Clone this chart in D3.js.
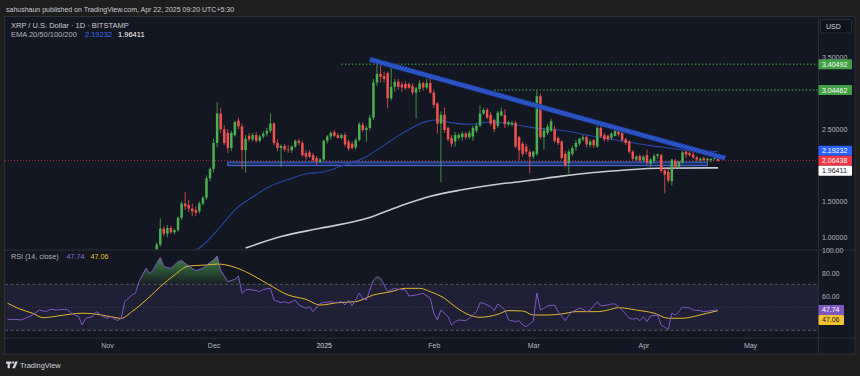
<!DOCTYPE html>
<html>
<head>
<meta charset="utf-8">
<script src="https://cdn.jsdelivr.net/npm/d3@7"></script>
<style>
  body { margin: 0; background: #1e1e1e; }
  svg { display: block; font-family: "Liberation Sans", Arial, sans-serif; }
</style>
</head>
<body>
<script>
// daily candles: date, open, high, low, close
var candles = [
  ["2024-11-12", 0.62, 0.78, 0.60, 0.72], ["2024-11-13", 0.72, 0.76, 0.66, 0.71],
  ["2024-11-14", 0.71, 0.78, 0.68, 0.73], ["2024-11-15", 0.73, 0.93, 0.72, 0.90],
  ["2024-11-16", 0.90, 1.26, 0.87, 1.12], ["2024-11-17", 1.12, 1.15, 1.02, 1.05],
  ["2024-11-18", 1.05, 1.17, 1.00, 1.13], ["2024-11-19", 1.13, 1.16, 1.05, 1.07],
  ["2024-11-20", 1.07, 1.12, 1.04, 1.10], ["2024-11-21", 1.10, 1.29, 1.08, 1.27],
  ["2024-11-22", 1.27, 1.50, 1.24, 1.47], ["2024-11-23", 1.47, 1.63, 1.38, 1.43],
  ["2024-11-24", 1.45, 1.52, 1.35, 1.40], ["2024-11-25", 1.40, 1.47, 1.29, 1.36],
  ["2024-11-26", 1.38, 1.43, 1.30, 1.34], ["2024-11-27", 1.36, 1.50, 1.33, 1.47],
  ["2024-11-28", 1.47, 1.57, 1.44, 1.55], ["2024-11-29", 1.55, 1.86, 1.52, 1.82],
  ["2024-11-30", 1.82, 1.97, 1.78, 1.95], ["2024-12-01", 1.95, 2.37, 1.90, 2.31],
  ["2024-12-02", 2.31, 2.88, 2.25, 2.72], ["2024-12-03", 2.72, 2.80, 2.45, 2.50],
  ["2024-12-04", 2.50, 2.56, 2.28, 2.31], ["2024-12-05", 2.45, 2.50, 2.17, 2.24],
  ["2024-12-06", 2.24, 2.48, 2.20, 2.45], ["2024-12-07", 2.42, 2.62, 2.40, 2.60],
  ["2024-12-08", 2.62, 2.66, 2.50, 2.54], ["2024-12-09", 2.54, 2.58, 1.95, 2.21],
  ["2024-12-10", 2.21, 2.42, 1.90, 2.37], ["2024-12-11", 2.41, 2.45, 2.33, 2.36],
  ["2024-12-12", 2.36, 2.45, 2.33, 2.42], ["2024-12-13", 2.42, 2.46, 2.31, 2.34],
  ["2024-12-14", 2.34, 2.43, 2.32, 2.40], ["2024-12-15", 2.40, 2.47, 2.37, 2.44],
  ["2024-12-16", 2.44, 2.52, 2.40, 2.48], ["2024-12-17", 2.48, 2.72, 2.45, 2.58],
  ["2024-12-18", 2.58, 2.60, 2.28, 2.31], ["2024-12-19", 2.31, 2.36, 2.20, 2.24],
  ["2024-12-20", 2.24, 2.29, 1.98, 2.27], ["2024-12-21", 2.27, 2.30, 2.19, 2.22],
  ["2024-12-22", 2.22, 2.28, 2.17, 2.21], ["2024-12-23", 2.21, 2.28, 2.17, 2.26],
  ["2024-12-24", 2.26, 2.36, 2.24, 2.34], ["2024-12-25", 2.34, 2.37, 2.28, 2.31],
  ["2024-12-26", 2.31, 2.34, 2.12, 2.14], ["2024-12-27", 2.17, 2.21, 2.08, 2.12],
  ["2024-12-28", 2.18, 2.21, 2.10, 2.12], ["2024-12-29", 2.14, 2.17, 2.05, 2.07],
  ["2024-12-30", 2.10, 2.13, 2.00, 2.05], ["2024-12-31", 2.05, 2.10, 2.03, 2.08],
  ["2025-01-01", 2.08, 2.36, 2.06, 2.34], ["2025-01-02", 2.34, 2.42, 2.30, 2.40],
  ["2025-01-03", 2.40, 2.47, 2.36, 2.45], ["2025-01-04", 2.46, 2.49, 2.39, 2.41],
  ["2025-01-05", 2.42, 2.45, 2.37, 2.38], ["2025-01-06", 2.38, 2.44, 2.36, 2.42],
  ["2025-01-07", 2.42, 2.45, 2.26, 2.29], ["2025-01-08", 2.33, 2.36, 2.20, 2.23],
  ["2025-01-09", 2.30, 2.33, 2.22, 2.24], ["2025-01-10", 2.25, 2.38, 2.22, 2.35],
  ["2025-01-11", 2.35, 2.60, 2.33, 2.57], ["2025-01-12", 2.56, 2.60, 2.46, 2.49],
  ["2025-01-13", 2.49, 2.55, 2.33, 2.52], ["2025-01-14", 2.52, 2.70, 2.48, 2.66],
  ["2025-01-15", 2.66, 3.20, 2.63, 3.15], ["2025-01-16", 3.15, 3.40, 3.10, 3.27],
  ["2025-01-17", 3.27, 3.39, 3.15, 3.23], ["2025-01-18", 3.24, 3.30, 3.15, 3.20],
  ["2025-01-19", 3.28, 3.30, 2.79, 2.93], ["2025-01-20", 2.93, 3.40, 2.90, 3.09],
  ["2025-01-21", 3.09, 3.20, 3.02, 3.16], ["2025-01-22", 3.16, 3.20, 3.05, 3.09],
  ["2025-01-23", 3.12, 3.16, 3.02, 3.08], ["2025-01-24", 3.13, 3.17, 3.05, 3.07],
  ["2025-01-25", 3.13, 3.15, 3.06, 3.08], ["2025-01-26", 3.10, 3.14, 2.98, 3.01],
  ["2025-01-27", 3.01, 3.09, 2.65, 3.07], ["2025-01-28", 3.06, 3.18, 3.02, 3.14],
  ["2025-01-29", 3.14, 3.16, 3.04, 3.08], ["2025-01-30", 3.08, 3.20, 3.05, 3.14],
  ["2025-01-31", 3.14, 3.20, 2.99, 3.01], ["2025-02-01", 3.01, 3.05, 2.80, 2.84],
  ["2025-02-02", 2.86, 2.88, 2.44, 2.58], ["2025-02-03", 2.58, 2.75, 1.77, 2.70],
  ["2025-02-04", 2.70, 2.80, 2.45, 2.49], ["2025-02-05", 2.52, 2.54, 2.33, 2.36],
  ["2025-02-06", 2.38, 2.42, 2.26, 2.30], ["2025-02-07", 2.33, 2.46, 2.26, 2.42],
  ["2025-02-08", 2.38, 2.45, 2.35, 2.42], ["2025-02-09", 2.39, 2.47, 2.34, 2.44],
  ["2025-02-10", 2.44, 2.46, 2.36, 2.39], ["2025-02-11", 2.39, 2.48, 2.36, 2.45],
  ["2025-02-12", 2.40, 2.55, 2.34, 2.52], ["2025-02-13", 2.48, 2.58, 2.45, 2.55],
  ["2025-02-14", 2.55, 2.83, 2.53, 2.72], ["2025-02-15", 2.72, 2.80, 2.70, 2.77],
  ["2025-02-16", 2.77, 2.80, 2.64, 2.66], ["2025-02-17", 2.70, 2.74, 2.55, 2.58],
  ["2025-02-18", 2.63, 2.65, 2.46, 2.50], ["2025-02-19", 2.55, 2.76, 2.52, 2.73],
  ["2025-02-20", 2.69, 2.80, 2.68, 2.75], ["2025-02-21", 2.70, 2.78, 2.52, 2.57],
  ["2025-02-22", 2.57, 2.62, 2.54, 2.60], ["2025-02-23", 2.57, 2.62, 2.54, 2.59],
  ["2025-02-24", 2.59, 2.62, 2.24, 2.26], ["2025-02-25", 2.39, 2.41, 2.07, 2.21],
  ["2025-02-26", 2.30, 2.33, 2.12, 2.16], ["2025-02-27", 2.26, 2.30, 2.15, 2.19],
  ["2025-02-28", 2.19, 2.22, 1.89, 2.12], ["2025-03-01", 2.12, 2.20, 2.09, 2.19],
  ["2025-03-02", 2.16, 3.04, 2.13, 2.96], ["2025-03-03", 2.96, 3.00, 2.36, 2.39],
  ["2025-03-04", 2.39, 2.52, 2.22, 2.48], ["2025-03-05", 2.45, 2.57, 2.42, 2.54],
  ["2025-03-06", 2.48, 2.65, 2.46, 2.61], ["2025-03-07", 2.50, 2.55, 2.31, 2.34],
  ["2025-03-08", 2.38, 2.40, 2.28, 2.31], ["2025-03-09", 2.33, 2.35, 2.08, 2.10],
  ["2025-03-10", 2.16, 2.20, 1.98, 2.00], ["2025-03-11", 2.03, 2.22, 1.89, 2.19],
  ["2025-03-12", 2.16, 2.27, 2.13, 2.24], ["2025-03-13", 2.25, 2.35, 2.20, 2.31],
  ["2025-03-14", 2.30, 2.38, 2.27, 2.37], ["2025-03-15", 2.36, 2.42, 2.33, 2.39],
  ["2025-03-16", 2.39, 2.41, 2.25, 2.29], ["2025-03-17", 2.28, 2.36, 2.25, 2.33],
  ["2025-03-18", 2.35, 2.37, 2.24, 2.28], ["2025-03-19", 2.26, 2.55, 2.24, 2.52],
  ["2025-03-20", 2.52, 2.55, 2.38, 2.40], ["2025-03-21", 2.42, 2.45, 2.33, 2.36],
  ["2025-03-22", 2.41, 2.43, 2.33, 2.36], ["2025-03-23", 2.38, 2.46, 2.35, 2.44],
  ["2025-03-24", 2.41, 2.52, 2.40, 2.48], ["2025-03-25", 2.47, 2.50, 2.40, 2.43],
  ["2025-03-26", 2.45, 2.47, 2.32, 2.35], ["2025-03-27", 2.36, 2.38, 2.28, 2.31],
  ["2025-03-28", 2.33, 2.35, 2.16, 2.19], ["2025-03-29", 2.19, 2.21, 2.07, 2.09],
  ["2025-03-30", 2.08, 2.14, 2.06, 2.12], ["2025-03-31", 2.13, 2.15, 2.05, 2.07],
  ["2025-04-01", 2.07, 2.14, 2.05, 2.12], ["2025-04-02", 2.14, 2.22, 2.00, 2.04],
  ["2025-04-03", 2.02, 2.10, 1.98, 2.08], ["2025-04-04", 2.06, 2.16, 2.03, 2.13],
  ["2025-04-05", 2.13, 2.17, 2.09, 2.15], ["2025-04-06", 2.14, 2.16, 1.90, 1.92],
  ["2025-04-07", 1.93, 1.96, 1.61, 1.87], ["2025-04-08", 1.91, 1.95, 1.76, 1.79],
  ["2025-04-09", 1.78, 2.09, 1.72, 2.08], ["2025-04-10", 2.06, 2.09, 1.95, 1.98],
  ["2025-04-11", 1.98, 2.06, 1.95, 2.05], ["2025-04-12", 2.04, 2.20, 2.02, 2.18],
  ["2025-04-13", 2.19, 2.24, 2.10, 2.15], ["2025-04-14", 2.17, 2.20, 2.12, 2.14],
  ["2025-04-15", 2.15, 2.22, 2.09, 2.11], ["2025-04-16", 2.11, 2.13, 2.05, 2.08],
  ["2025-04-17", 2.07, 2.11, 2.05, 2.09], ["2025-04-18", 2.10, 2.12, 2.06, 2.07],
  ["2025-04-19", 2.07, 2.11, 2.05, 2.09], ["2025-04-20", 2.07, 2.10, 2.04, 2.09],
  ["2025-04-21", 2.09, 2.13, 2.07, 2.11], ["2025-04-22", 2.10, 2.12, 2.05, 2.06438]
];

var ema50 = [
  ["2024-11-20", 0.72], ["2024-11-28", 0.89], ["2024-12-03", 1.15], ["2024-12-07", 1.38],
  ["2024-12-12", 1.56], ["2024-12-17", 1.71], ["2024-12-23", 1.82], ["2024-12-28", 1.89],
  ["2024-12-31", 1.90], ["2025-01-06", 1.99], ["2025-01-13", 2.12], ["2025-01-18", 2.28],
  ["2025-01-23", 2.44], ["2025-01-30", 2.61], ["2025-02-02", 2.63], ["2025-02-05", 2.60],
  ["2025-02-11", 2.57], ["2025-02-17", 2.60], ["2025-02-22", 2.58], ["2025-02-28", 2.53],
  ["2025-03-05", 2.50], ["2025-03-11", 2.47], ["2025-03-16", 2.42], ["2025-03-22", 2.37],
  ["2025-03-27", 2.33], ["2025-04-02", 2.28], ["2025-04-08", 2.24], ["2025-04-13", 2.21],
  ["2025-04-22", 2.19232]
];

var ema200 = [
  ["2024-12-10", 0.85], ["2024-12-20", 1.01], ["2024-12-31", 1.125], ["2025-01-13", 1.26],
  ["2025-01-22", 1.425], ["2025-01-31", 1.57], ["2025-02-09", 1.66], ["2025-02-18", 1.73],
  ["2025-02-28", 1.79], ["2025-03-09", 1.85], ["2025-03-18", 1.90], ["2025-03-27", 1.935],
  ["2025-04-05", 1.96], ["2025-04-22", 1.96411]
];

var rsi = [
  ["2024-10-04", 39.5], ["2024-10-06", 39.5], ["2024-10-08", 39.0], ["2024-10-09", 40.5],
  ["2024-10-11", 43.3], ["2024-10-13", 47.6], ["2024-10-15", 46.2], ["2024-10-16", 48.3],
  ["2024-10-18", 47.6], ["2024-10-20", 48.3], ["2024-10-21", 47.6], ["2024-10-22", 44.9],
  ["2024-10-24", 41.9], ["2024-10-25", 34.6], ["2024-10-26", 40.4], ["2024-10-28", 41.9],
  ["2024-10-29", 46.2], ["2024-10-31", 41.9], ["2024-11-01", 40.4], ["2024-11-02", 41.9],
  ["2024-11-04", 38.4], ["2024-11-05", 40.4], ["2024-11-06", 54.9], ["2024-11-08", 60.7],
  ["2024-11-09", 62.2], ["2024-11-10", 72.3], ["2024-11-12", 83.9], ["2024-11-13", 79.5],
  ["2024-11-14", 82.4], ["2024-11-15", 88.2], ["2024-11-16", 93.4], ["2024-11-17", 85.3],
  ["2024-11-19", 83.9], ["2024-11-20", 86.8], ["2024-11-21", 89.7], ["2024-11-22", 90.6],
  ["2024-11-23", 88.2], ["2024-11-25", 83.9], ["2024-11-26", 81.9], ["2024-11-28", 83.9],
  ["2024-11-29", 86.8], ["2024-12-01", 91.1], ["2024-12-02", 94.6], ["2024-12-03", 82.4],
  ["2024-12-05", 72.3], ["2024-12-07", 74.3], ["2024-12-08", 77.2], ["2024-12-09", 62.2],
  ["2024-12-10", 65.1], ["2024-12-11", 65.6], ["2024-12-13", 64.5], ["2024-12-14", 63.6],
  ["2024-12-15", 65.6], ["2024-12-17", 66.5], ["2024-12-18", 56.3], ["2024-12-20", 54.0],
  ["2024-12-21", 54.9], ["2024-12-22", 53.5], ["2024-12-24", 56.3], ["2024-12-25", 52.0],
  ["2024-12-27", 49.1], ["2024-12-28", 50.5], ["2024-12-29", 46.2], ["2024-12-31", 53.5],
  ["2025-01-01", 54.0], ["2025-01-03", 54.9], ["2025-01-04", 54.0], ["2025-01-06", 54.9],
  ["2025-01-07", 52.0], ["2025-01-08", 56.3], ["2025-01-09", 51.2], ["2025-01-10", 56.3],
  ["2025-01-11", 62.2], ["2025-01-12", 57.8], ["2025-01-13", 56.3], ["2025-01-15", 73.7],
  ["2025-01-16", 76.6], ["2025-01-17", 75.2], ["2025-01-19", 63.6], ["2025-01-20", 65.1],
  ["2025-01-21", 66.5], ["2025-01-22", 65.6], ["2025-01-24", 65.1], ["2025-01-25", 59.8],
  ["2025-01-27", 60.7], ["2025-01-29", 62.2], ["2025-01-31", 57.8], ["2025-02-01", 44.8],
  ["2025-02-02", 39.0], ["2025-02-03", 47.6], ["2025-02-05", 41.9], ["2025-02-06", 34.6],
  ["2025-02-07", 37.5], ["2025-02-08", 39.0], ["2025-02-10", 38.4], ["2025-02-11", 40.4],
  ["2025-02-13", 46.2], ["2025-02-14", 54.0], ["2025-02-15", 53.5], ["2025-02-17", 50.5],
  ["2025-02-18", 47.1], ["2025-02-19", 52.9], ["2025-02-20", 50.5], ["2025-02-21", 47.6],
  ["2025-02-22", 39.0], ["2025-02-24", 37.5], ["2025-02-25", 38.4], ["2025-02-26", 34.6],
  ["2025-02-27", 33.2], ["2025-02-28", 35.5], ["2025-03-01", 38.0], ["2025-03-02", 62.2],
  ["2025-03-03", 47.6], ["2025-03-04", 49.1], ["2025-03-05", 51.2], ["2025-03-07", 52.0],
  ["2025-03-08", 46.2], ["2025-03-09", 42.4], ["2025-03-10", 38.4], ["2025-03-11", 43.3],
  ["2025-03-12", 46.2], ["2025-03-14", 49.1], ["2025-03-15", 48.3], ["2025-03-16", 46.2],
  ["2025-03-17", 47.6], ["2025-03-19", 54.9], ["2025-03-20", 51.2], ["2025-03-22", 52.0],
  ["2025-03-23", 52.9], ["2025-03-24", 52.9], ["2025-03-25", 50.5], ["2025-03-26", 47.6],
  ["2025-03-28", 40.5], ["2025-03-29", 39.6], ["2025-03-30", 40.5], ["2025-03-31", 38.4],
  ["2025-04-01", 41.9], ["2025-04-02", 37.5], ["2025-04-03", 42.4], ["2025-04-05", 43.3],
  ["2025-04-06", 34.6], ["2025-04-07", 32.6], ["2025-04-08", 30.8], ["2025-04-09", 44.9],
  ["2025-04-10", 43.3], ["2025-04-11", 46.2], ["2025-04-12", 50.2], ["2025-04-14", 49.3],
  ["2025-04-15", 47.6], ["2025-04-17", 47.1], ["2025-04-18", 46.2], ["2025-04-20", 47.1],
  ["2025-04-22", 47.74]
];

var rsiMa = [
  ["2024-10-04", 53.6], ["2024-10-07", 49.1], ["2024-10-11", 44.9], ["2024-10-14", 41.0],
  ["2024-10-18", 42.4], ["2024-10-22", 44.1], ["2024-10-25", 44.9], ["2024-10-29", 44.0],
  ["2024-11-02", 41.9], ["2024-11-05", 40.4], ["2024-11-08", 46.2], ["2024-11-12", 56.3],
  ["2024-11-16", 67.9], ["2024-11-20", 78.1], ["2024-11-24", 85.9], ["2024-11-29", 86.8],
  ["2024-12-02", 87.6], ["2024-12-07", 84.8], ["2024-12-11", 79.5], ["2024-12-16", 70.8],
  ["2024-12-22", 60.7], ["2024-12-27", 56.9], ["2024-12-31", 52.0], ["2025-01-05", 54.0],
  ["2025-01-10", 54.9], ["2025-01-15", 60.7], ["2025-01-20", 63.6], ["2025-01-24", 66.5],
  ["2025-01-28", 66.5], ["2025-01-31", 63.6], ["2025-02-04", 57.8], ["2025-02-07", 50.5],
  ["2025-02-11", 43.3], ["2025-02-14", 41.3], ["2025-02-19", 43.9], ["2025-02-22", 47.1],
  ["2025-02-26", 46.8], ["2025-03-01", 43.3], ["2025-03-05", 43.3], ["2025-03-09", 44.2],
  ["2025-03-13", 46.2], ["2025-03-19", 46.2], ["2025-03-22", 47.6], ["2025-03-25", 49.7],
  ["2025-03-30", 47.6], ["2025-04-04", 44.9], ["2025-04-08", 40.5], ["2025-04-12", 40.5],
  ["2025-04-16", 42.6], ["2025-04-19", 44.9], ["2025-04-22", 47.06]
];

// 2.0, 3.0 and 40 sit under the value labels in the reference, so they are left out
var priceTicks = [1, 1.5, 2.5, 3.5];
var rsiTicks = [100, 80, 60];
var rsiLevels = [70, 50, 30];
var monthTicks = ["2024-11-01", "2024-12-01", "2025-01-01", "2025-02-01", "2025-03-01", "2025-04-01", "2025-05-01"];

// drawings on the chart
var levelPrices = [3.40492, 3.04462];
var levelStarts = ["2025-01-06", "2025-02-18"];
var trendline = [["2025-01-14", 3.47], ["2025-04-24", 2.10]];
var zoneDates = ["2024-12-05", "2025-04-19"];
var zonePrices = [2.045, 1.995];

var lastPrice = 2.06438, lastEma50 = 2.19232, lastEma200 = 1.96411;
var lastRsi = 47.74, lastRsiMa = 47.06;

var parse = d3.utcParse("%Y-%m-%d");
var bars = candles.map(function(d) {
  return { date: parse(d[0]), o: d[1], h: d[2], l: d[3], c: d[4] };
});
var pts = function(arr) {
  return arr.map(function(d) { return { date: parse(d[0]), v: d[1] }; });
};

var W = 860, H = 376,
    plotL = 5, plotR = 818, panelR = 855,
    priceTop = 16.5, priceBot = 249.5, rsiTop = 250, rsiBot = 338, timeBot = 354;

var green = "#4caf50", red = "#ef5350", grid = "#2a2e39", axisText = "#b2b5be";

var x = d3.scaleUtc()
    .domain([parse("2024-11-01"), parse("2025-05-01")])
    .range([107, 750]);
var y = d3.scaleLinear().domain([1, 3.5]).range([237.3, 57.3]);
var yr = d3.scaleLinear().domain([30, 70]).range([330.3, 284.3]);

var svg = d3.select("body").append("svg")
    .attr("width", W)
    .attr("height", H);

var defs = svg.append("defs");
defs.append("clipPath").attr("id", "clipPrice").append("rect")
    .attr("x", plotL).attr("y", priceTop)
    .attr("width", plotR - plotL).attr("height", priceBot - priceTop);
defs.append("clipPath").attr("id", "clipRsi").append("rect")
    .attr("x", plotL).attr("y", rsiTop)
    .attr("width", plotR - plotL).attr("height", rsiBot - rsiTop);
defs.append("clipPath").attr("id", "clipOver").append("rect")
    .attr("x", plotL).attr("y", rsiTop)
    .attr("width", plotR - plotL).attr("height", yr(70) - rsiTop);

var grad = defs.append("linearGradient").attr("id", "overGrad")
    .attr("gradientUnits", "userSpaceOnUse")
    .attr("x1", 0).attr("x2", 0).attr("y1", yr(100)).attr("y2", yr(70));
grad.append("stop").attr("offset", 0).attr("stop-color", green).attr("stop-opacity", 0.9);
grad.append("stop").attr("offset", 1).attr("stop-color", green).attr("stop-opacity", 0.05);

var hatch = defs.append("pattern").attr("id", "hatch")
    .attr("width", 2.5).attr("height", 2.5)
    .attr("patternUnits", "userSpaceOnUse")
    .attr("patternTransform", "rotate(45)");
hatch.append("rect").attr("width", 2.5).attr("height", 2.5).attr("fill", "#2348b8");
hatch.append("line").attr("x1", 0).attr("y1", 0).attr("x2", 0).attr("y2", 2.5)
    .attr("stroke", "#4f78e6").attr("stroke-width", 1);

// background and panel frame
svg.append("rect").attr("width", W).attr("height", H).attr("fill", "#1e1e1e");
svg.append("rect")
    .attr("x", 4.5).attr("y", 16.5)
    .attr("width", panelR - 4.5).attr("height", timeBot - 16.5)
    .attr("fill", "#131722")
    .attr("stroke", grid);

svg.append("text")
    .attr("x", 6).attr("y", 11.5)
    .attr("fill", "#c8cbd3").attr("font-size", 7)
    .text("sahushaun published on TradingView.com, Apr 22, 2025 09:20 UTC+5:30");

// ---- price pane ----
var price = svg.append("g").attr("clip-path", "url(#clipPrice)");

price.append("line")
    .attr("x1", plotL).attr("x2", plotR)
    .attr("y1", y(lastPrice)).attr("y2", y(lastPrice))
    .attr("stroke", "#f23645").attr("stroke-opacity", 0.75)
    .attr("stroke-dasharray", "1,2");

price.selectAll("line.level")
    .data(levelPrices)
  .enter().append("line")
    .attr("class", "level")
    .attr("x1", function(d, i) { return x(parse(levelStarts[i])); })
    .attr("x2", plotR)
    .attr("y1", function(d) { return y(d); })
    .attr("y2", function(d) { return y(d); })
    .attr("stroke", green)
    .attr("stroke-dasharray", "1.5,2");

price.append("rect")
    .attr("x", x(parse(zoneDates[0])))
    .attr("width", x(parse(zoneDates[1])) - x(parse(zoneDates[0])))
    .attr("y", y(zonePrices[0]))
    .attr("height", y(zonePrices[1]) - y(zonePrices[0]))
    .attr("fill", "rgba(41,98,255,0.3)")
    .attr("stroke", "#5576dc")
    .attr("stroke-width", 0.9);

var emaLine = d3.line()
    .x(function(d) { return x(d.date); })
    .y(function(d) { return y(d.v); })
    .curve(d3.curveMonotoneX);

price.append("path")
    .attr("d", emaLine(pts(ema200)))
    .attr("fill", "none").attr("stroke", "#c9ccd4").attr("stroke-width", 1.6);
price.append("path")
    .attr("d", emaLine(pts(ema50)))
    .attr("fill", "none").attr("stroke", "#2747a8").attr("stroke-width", 1.1);

var candle = price.selectAll("g.candle")
    .data(bars)
  .enter().append("g")
    .attr("class", "candle")
    .attr("fill", function(d) { return d.c >= d.o ? green : red; })
    .attr("stroke", function(d) { return d.c >= d.o ? green : red; });

candle.append("line")
    .attr("x1", function(d) { return x(d.date); })
    .attr("x2", function(d) { return x(d.date); })
    .attr("y1", function(d) { return y(d.h); })
    .attr("y2", function(d) { return y(d.l); })
    .attr("stroke-width", 0.8);

candle.append("rect")
    .attr("stroke", "none")
    .attr("x", function(d) { return x(d.date) - 1.25; })
    .attr("width", 2.5)
    .attr("y", function(d) { return y(Math.max(d.o, d.c)); })
    .attr("height", function(d) { return Math.max(0.8, Math.abs(y(d.o) - y(d.c))); });

// descending trendline band
var tl = trendline.map(function(d) { return [x(parse(d[0])), y(d[1])]; });
price.append("line")
    .attr("x1", tl[0][0]).attr("y1", tl[0][1]).attr("x2", tl[1][0]).attr("y2", tl[1][1])
    .attr("stroke", "#1a3585").attr("stroke-width", 5.5);
price.append("line")
    .attr("x1", tl[0][0]).attr("y1", tl[0][1]).attr("x2", tl[1][0]).attr("y2", tl[1][1])
    .attr("stroke", "url(#hatch)").attr("stroke-width", 4);

// legend
var legend = svg.append("g").attr("font-size", 7.5);
legend.append("text").attr("x", 11).attr("y", 27.5).attr("fill", "#c9ccd4")
    .text("XRP / U.S. Dollar \u00b7 1D \u00b7 BITSTAMP");
var emaText = legend.append("text").attr("x", 11).attr("y", 37).attr("fill", axisText);
emaText.append("tspan").text("EMA 20/50/100/200");
emaText.append("tspan").attr("dx", 8).attr("fill", "#3d6cf2").text(d3.format(".5f")(lastEma50));
emaText.append("tspan").attr("dx", 6).attr("fill", "#ffffff").text(d3.format(".5f")(lastEma200));

// ---- RSI pane ----
var rsiG = svg.append("g").attr("clip-path", "url(#clipRsi)");

rsiG.append("rect")
    .attr("x", plotL).attr("width", plotR - plotL)
    .attr("y", yr(70)).attr("height", yr(30) - yr(70))
    .attr("fill", "rgba(126,87,194,0.12)");

rsiG.selectAll("line.rsiLevel")
    .data(rsiLevels)
  .enter().append("line")
    .attr("class", "rsiLevel")
    .attr("x1", plotL).attr("x2", plotR)
    .attr("y1", function(d) { return yr(d); })
    .attr("y2", function(d) { return yr(d); })
    .attr("stroke", "#787b86")
    .attr("stroke-opacity", function(d) { return d === 50 ? 0.45 : 0.8; })
    .attr("stroke-dasharray", function(d) { return d === 50 ? "1,2" : "3,2.5"; })
    .attr("stroke-width", 0.8);

var rsiPts = pts(rsi);
rsiG.append("path")
    .attr("clip-path", "url(#clipOver)")
    .attr("d", d3.area()
      .x(function(d) { return x(d.date); })
      .y0(yr(70))
      .y1(function(d) { return yr(d.v); })(rsiPts))
    .attr("fill", "url(#overGrad)");

rsiG.append("path")
    .attr("d", d3.line()
      .x(function(d) { return x(d.date); })
      .y(function(d) { return yr(d.v); })
      .curve(d3.curveMonotoneX)(pts(rsiMa)))
    .attr("fill", "none").attr("stroke", "#e5b82a").attr("stroke-width", 1);

rsiG.append("path")
    .attr("d", d3.line()
      .x(function(d) { return x(d.date); })
      .y(function(d) { return yr(d.v); })(rsiPts))
    .attr("fill", "none").attr("stroke", "#7e57c2").attr("stroke-width", 1);

var rsiLegend = svg.append("text").attr("x", 11).attr("y", 258.5)
    .attr("font-size", 7.2).attr("fill", axisText);
rsiLegend.append("tspan").text("RSI (14, close)");
rsiLegend.append("tspan").attr("dx", 8).attr("fill", "#8f6fd6").text(lastRsi.toFixed(2));
rsiLegend.append("tspan").attr("dx", 6).attr("fill", "#f0c028").text(lastRsiMa.toFixed(2));

// pane separators
svg.append("line").attr("x1", 4.5).attr("x2", panelR).attr("y1", rsiTop).attr("y2", rsiTop).attr("stroke", grid);
svg.append("line").attr("x1", 4.5).attr("x2", panelR).attr("y1", rsiBot).attr("y2", rsiBot).attr("stroke", grid);
svg.append("line").attr("x1", plotR + 0.5).attr("x2", plotR + 0.5).attr("y1", 16.5).attr("y2", timeBot).attr("stroke", grid);

// ---- axes ----
var styleAxis = function(g) {
  g.select(".domain").remove();
  g.selectAll("text").attr("fill", axisText).attr("font-size", 7)
      .attr("font-family", "\"Liberation Sans\", Arial, sans-serif");
};

svg.append("g")
    .attr("transform", "translate(" + plotR + ",0)")
    .call(d3.axisRight(y).tickValues(priceTicks).tickFormat(d3.format(".5f")).tickSize(0).tickPadding(4))
    .call(styleAxis);

svg.append("g")
    .attr("transform", "translate(" + plotR + ",0)")
    .call(d3.axisRight(yr).tickValues(rsiTicks).tickFormat(d3.format(".2f")).tickSize(0).tickPadding(4))
    .call(styleAxis);

svg.append("g")
    .attr("transform", "translate(0," + rsiBot + ")")
    .call(d3.axisBottom(x)
      .tickValues(monthTicks.map(parse))
      .tickFormat(function(d) { return d.getUTCMonth() === 0 ? d.getUTCFullYear() : d3.utcFormat("%b")(d); })
      .tickSize(0).tickPadding(5.5))
    .call(styleAxis)
    .selectAll("text")
      .attr("fill", function(d) { return d.getUTCMonth() === 0 ? "#d1d4dc" : axisText; });

// USD box
svg.append("rect").attr("x", 820.5).attr("y", 19.5).attr("width", 31).attr("height", 13.5)
    .attr("rx", 1.5).attr("fill", "#0f121a").attr("stroke", "#2a2e39");
svg.append("text").attr("x", 826).attr("y", 29).attr("font-size", 7)
    .attr("fill", "#d1d4dc").text("USD");

// price / value labels on the axis
var axisLabel = function(yPos, text, bg, fg, width) {
  var g = svg.append("g").attr("transform", "translate(" + (plotR + 0.5) + "," + yPos + ")");
  g.append("rect").attr("x", 0).attr("y", -5).attr("width", width).attr("height", 10)
      .attr("rx", 1).attr("fill", bg);
  g.append("text").attr("x", 3.5).attr("dy", "0.35em").attr("font-size", 7)
      .attr("fill", fg).text(text);
};

levelPrices.forEach(function(p) {
  axisLabel(y(p), d3.format(".5f")(p), "#43a047", "#ffffff", 33.5);
});
var yLast = y(lastPrice);
axisLabel(Math.min(y(lastEma50), yLast - 10), d3.format(".5f")(lastEma50), "#2962ff", "#ffffff", 33.5);
axisLabel(yLast, d3.format(".5f")(lastPrice), "#f23645", "#ffffff", 33.5);
axisLabel(Math.max(y(lastEma200), yLast + 10), d3.format(".5f")(lastEma200), "#ffffff", "#131722", 33.5);

var yRsi = yr(lastRsi);
axisLabel(yRsi, lastRsi.toFixed(2), "#7e57c2", "#ffffff", 25.5);
axisLabel(Math.max(yr(lastRsiMa), yRsi + 10), lastRsiMa.toFixed(2), "#f2c230", "#131722", 25.5);

// TradingView footer
var logo = svg.append("g").attr("fill", "#d1d4dc");
logo.append("path").attr("d", "M6,361.5h5.5v2.2h-1.6v4.6h-2.3v-4.6h-1.6z");
logo.append("circle").attr("cx", 13.2).attr("cy", 362.6).attr("r", 1.1);
logo.append("path").attr("d", "M15.2,361.5h2.6l-2.9,6.8h-2.6z");
logo.append("text").attr("x", 20).attr("y", 367.5).attr("font-size", 7.4).text("TradingView");
</script>
</body>
</html>
